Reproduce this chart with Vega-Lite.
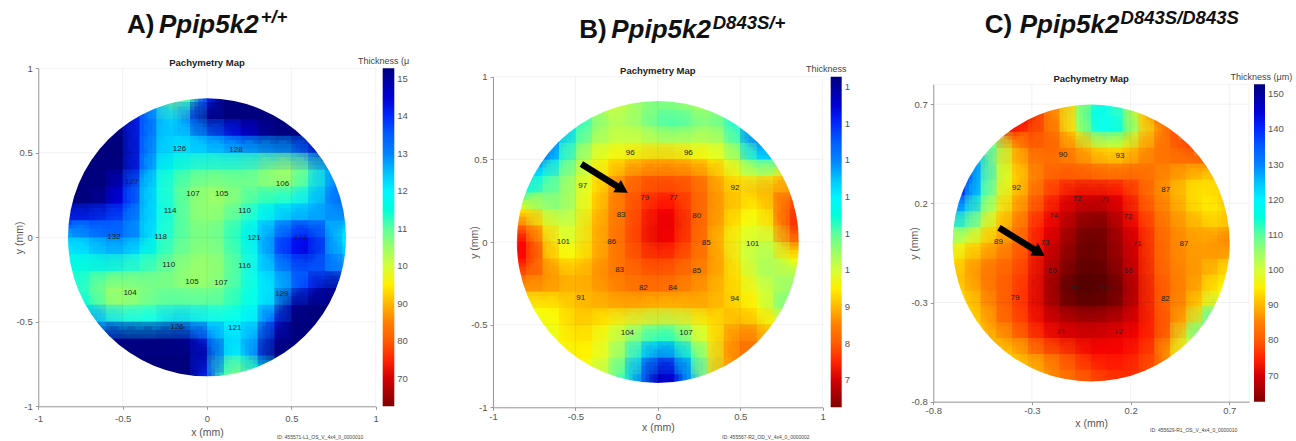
{"$schema":"https://vega.github.io/schema/vega-lite/v6.json","padding":0,"background":"white","bounds":"flush","spacing":0,"config":{"view":{"stroke":null},"font":"Liberation Sans"},"resolve":{"scale":{"color":"independent"},"legend":{"color":"independent"}},
"datasets":{
"one":[{"n":1}],
"gridAB":[{"g":-1},{"g":-0.5},{"g":0},{"g":0.5},{"g":1}],
"gridC":[{"g":-0.8},{"g":-0.3},{"g":0.2},{"g":0.7},{"g":0.8}],
"mapA":[
{"x":-0.3,"y":0.8,"v":125},{"x":-0.2,"y":0.8,"v":105},{"x":-0.1,"y":0.8,"v":112},{"x":0,"y":0.8,"v":140},{"x":0.1,"y":0.8,"v":153},{"x":0.2,"y":0.8,"v":153},{"x":0.3,"y":0.8,"v":153},
{"x":-0.5,"y":0.7,"v":150},{"x":-0.4,"y":0.7,"v":140},{"x":-0.3,"y":0.7,"v":128},{"x":-0.2,"y":0.7,"v":122},{"x":-0.1,"y":0.7,"v":135},{"x":0,"y":0.7,"v":153},{"x":0.1,"y":0.7,"v":153},{"x":0.2,"y":0.7,"v":153},{"x":0.3,"y":0.7,"v":153},{"x":0.4,"y":0.7,"v":153},{"x":0.5,"y":0.7,"v":153},
{"x":-0.6,"y":0.6,"v":153},{"x":-0.5,"y":0.6,"v":153},{"x":-0.4,"y":0.6,"v":140},{"x":-0.3,"y":0.6,"v":127},{"x":-0.2,"y":0.6,"v":123},{"x":-0.1,"y":0.6,"v":125},{"x":0,"y":0.6,"v":132},{"x":0.1,"y":0.6,"v":138},{"x":0.2,"y":0.6,"v":143},{"x":0.3,"y":0.6,"v":148},{"x":0.4,"y":0.6,"v":153},{"x":0.5,"y":0.6,"v":153},{"x":0.6,"y":0.6,"v":153},
{"x":-0.7,"y":0.5,"v":153},{"x":-0.6,"y":0.5,"v":153},{"x":-0.5,"y":0.5,"v":153},{"x":-0.4,"y":0.5,"v":140},{"x":-0.3,"y":0.5,"v":125},{"x":-0.2,"y":0.5,"v":122},{"x":-0.1,"y":0.5,"v":122},{"x":0,"y":0.5,"v":122},{"x":0.1,"y":0.5,"v":123},{"x":0.2,"y":0.5,"v":124},{"x":0.3,"y":0.5,"v":125},{"x":0.4,"y":0.5,"v":127},{"x":0.5,"y":0.5,"v":128},{"x":0.6,"y":0.5,"v":137},{"x":0.7,"y":0.5,"v":150},
{"x":-0.7,"y":0.4,"v":153},{"x":-0.6,"y":0.4,"v":153},{"x":-0.5,"y":0.4,"v":153},{"x":-0.4,"y":0.4,"v":140},{"x":-0.3,"y":0.4,"v":122},{"x":-0.2,"y":0.4,"v":115},{"x":-0.1,"y":0.4,"v":113},{"x":0,"y":0.4,"v":112},{"x":0.1,"y":0.4,"v":112},{"x":0.2,"y":0.4,"v":112},{"x":0.3,"y":0.4,"v":110},{"x":0.4,"y":0.4,"v":105},{"x":0.5,"y":0.4,"v":104},{"x":0.6,"y":0.4,"v":110},{"x":0.7,"y":0.4,"v":125},
{"x":-0.8,"y":0.3,"v":153},{"x":-0.7,"y":0.3,"v":153},{"x":-0.6,"y":0.3,"v":153},{"x":-0.5,"y":0.3,"v":145},{"x":-0.4,"y":0.3,"v":130},{"x":-0.3,"y":0.3,"v":118},{"x":-0.2,"y":0.3,"v":112},{"x":-0.1,"y":0.3,"v":108},{"x":0,"y":0.3,"v":106},{"x":0.1,"y":0.3,"v":106},{"x":0.2,"y":0.3,"v":108},{"x":0.3,"y":0.3,"v":108},{"x":0.4,"y":0.3,"v":106},{"x":0.5,"y":0.3,"v":107},{"x":0.6,"y":0.3,"v":113},{"x":0.7,"y":0.3,"v":125},{"x":0.8,"y":0.3,"v":135},
{"x":-0.8,"y":0.2,"v":153},{"x":-0.7,"y":0.2,"v":153},{"x":-0.6,"y":0.2,"v":150},{"x":-0.5,"y":0.2,"v":142},{"x":-0.4,"y":0.2,"v":130},{"x":-0.3,"y":0.2,"v":120},{"x":-0.2,"y":0.2,"v":113},{"x":-0.1,"y":0.2,"v":108},{"x":0,"y":0.2,"v":105},{"x":0.1,"y":0.2,"v":105},{"x":0.2,"y":0.2,"v":109},{"x":0.3,"y":0.2,"v":113},{"x":0.4,"y":0.2,"v":115},{"x":0.5,"y":0.2,"v":118},{"x":0.6,"y":0.2,"v":122},{"x":0.7,"y":0.2,"v":128},{"x":0.8,"y":0.2,"v":135},
{"x":-0.8,"y":0.1,"v":140},{"x":-0.7,"y":0.1,"v":140},{"x":-0.6,"y":0.1,"v":138},{"x":-0.5,"y":0.1,"v":135},{"x":-0.4,"y":0.1,"v":128},{"x":-0.3,"y":0.1,"v":120},{"x":-0.2,"y":0.1,"v":113},{"x":-0.1,"y":0.1,"v":108},{"x":0,"y":0.1,"v":106},{"x":0.1,"y":0.1,"v":108},{"x":0.2,"y":0.1,"v":112},{"x":0.3,"y":0.1,"v":118},{"x":0.4,"y":0.1,"v":123},{"x":0.5,"y":0.1,"v":127},{"x":0.6,"y":0.1,"v":128},{"x":0.7,"y":0.1,"v":128},{"x":0.8,"y":0.1,"v":128},
{"x":-0.8,"y":0,"v":125},{"x":-0.7,"y":0,"v":128},{"x":-0.6,"y":0,"v":132},{"x":-0.5,"y":0,"v":133},{"x":-0.4,"y":0,"v":128},{"x":-0.3,"y":0,"v":118},{"x":-0.2,"y":0,"v":112},{"x":-0.1,"y":0,"v":109},{"x":0,"y":0,"v":108},{"x":0.1,"y":0,"v":110},{"x":0.2,"y":0,"v":115},{"x":0.3,"y":0,"v":122},{"x":0.4,"y":0,"v":132},{"x":0.5,"y":0,"v":140},{"x":0.6,"y":0,"v":143},{"x":0.7,"y":0,"v":135},{"x":0.8,"y":0,"v":120},
{"x":-0.8,"y":-0.1,"v":120},{"x":-0.7,"y":-0.1,"v":121},{"x":-0.6,"y":-0.1,"v":124},{"x":-0.5,"y":-0.1,"v":124},{"x":-0.4,"y":-0.1,"v":120},{"x":-0.3,"y":-0.1,"v":114},{"x":-0.2,"y":-0.1,"v":110},{"x":-0.1,"y":-0.1,"v":108},{"x":0,"y":-0.1,"v":106},{"x":0.1,"y":-0.1,"v":108},{"x":0.2,"y":-0.1,"v":113},{"x":0.3,"y":-0.1,"v":120},{"x":0.4,"y":-0.1,"v":132},{"x":0.5,"y":-0.1,"v":141},{"x":0.6,"y":-0.1,"v":145},{"x":0.7,"y":-0.1,"v":135},{"x":0.8,"y":-0.1,"v":125},
{"x":-0.8,"y":-0.2,"v":115},{"x":-0.7,"y":-0.2,"v":114},{"x":-0.6,"y":-0.2,"v":114},{"x":-0.5,"y":-0.2,"v":113},{"x":-0.4,"y":-0.2,"v":112},{"x":-0.3,"y":-0.2,"v":110},{"x":-0.2,"y":-0.2,"v":108},{"x":-0.1,"y":-0.2,"v":105},{"x":0,"y":-0.2,"v":105},{"x":0.1,"y":-0.2,"v":107},{"x":0.2,"y":-0.2,"v":112},{"x":0.3,"y":-0.2,"v":120},{"x":0.4,"y":-0.2,"v":126},{"x":0.5,"y":-0.2,"v":132},{"x":0.6,"y":-0.2,"v":135},{"x":0.7,"y":-0.2,"v":135},{"x":0.8,"y":-0.2,"v":130},
{"x":-0.8,"y":-0.3,"v":118},{"x":-0.7,"y":-0.3,"v":111},{"x":-0.6,"y":-0.3,"v":105},{"x":-0.5,"y":-0.3,"v":104},{"x":-0.4,"y":-0.3,"v":106},{"x":-0.3,"y":-0.3,"v":108},{"x":-0.2,"y":-0.3,"v":108},{"x":-0.1,"y":-0.3,"v":106},{"x":0,"y":-0.3,"v":106},{"x":0.1,"y":-0.3,"v":108},{"x":0.2,"y":-0.3,"v":113},{"x":0.3,"y":-0.3,"v":118},{"x":0.4,"y":-0.3,"v":123},{"x":0.5,"y":-0.3,"v":130},{"x":0.6,"y":-0.3,"v":140},{"x":0.7,"y":-0.3,"v":150},{"x":0.8,"y":-0.3,"v":150},
{"x":-0.7,"y":-0.4,"v":115},{"x":-0.6,"y":-0.4,"v":108},{"x":-0.5,"y":-0.4,"v":106},{"x":-0.4,"y":-0.4,"v":108},{"x":-0.3,"y":-0.4,"v":110},{"x":-0.2,"y":-0.4,"v":111},{"x":-0.1,"y":-0.4,"v":111},{"x":0,"y":-0.4,"v":111},{"x":0.1,"y":-0.4,"v":111},{"x":0.2,"y":-0.4,"v":114},{"x":0.3,"y":-0.4,"v":118},{"x":0.4,"y":-0.4,"v":125},{"x":0.5,"y":-0.4,"v":150},{"x":0.6,"y":-0.4,"v":153},{"x":0.7,"y":-0.4,"v":153},
{"x":-0.7,"y":-0.5,"v":130},{"x":-0.6,"y":-0.5,"v":124},{"x":-0.5,"y":-0.5,"v":120},{"x":-0.4,"y":-0.5,"v":118},{"x":-0.3,"y":-0.5,"v":119},{"x":-0.2,"y":-0.5,"v":124},{"x":-0.1,"y":-0.5,"v":123},{"x":0,"y":-0.5,"v":120},{"x":0.1,"y":-0.5,"v":118},{"x":0.2,"y":-0.5,"v":119},{"x":0.3,"y":-0.5,"v":122},{"x":0.4,"y":-0.5,"v":140},{"x":0.5,"y":-0.5,"v":153},{"x":0.6,"y":-0.5,"v":153},{"x":0.7,"y":-0.5,"v":153},
{"x":-0.6,"y":-0.6,"v":150},{"x":-0.5,"y":-0.6,"v":152},{"x":-0.4,"y":-0.6,"v":152},{"x":-0.3,"y":-0.6,"v":152},{"x":-0.2,"y":-0.6,"v":152},{"x":-0.1,"y":-0.6,"v":150},{"x":0,"y":-0.6,"v":138},{"x":0.1,"y":-0.6,"v":124},{"x":0.2,"y":-0.6,"v":122},{"x":0.3,"y":-0.6,"v":130},{"x":0.4,"y":-0.6,"v":150},{"x":0.5,"y":-0.6,"v":153},{"x":0.6,"y":-0.6,"v":153},
{"x":-0.5,"y":-0.7,"v":153},{"x":-0.4,"y":-0.7,"v":153},{"x":-0.3,"y":-0.7,"v":153},{"x":-0.2,"y":-0.7,"v":153},{"x":-0.1,"y":-0.7,"v":153},{"x":0,"y":-0.7,"v":148},{"x":0.1,"y":-0.7,"v":125},{"x":0.2,"y":-0.7,"v":118},{"x":0.3,"y":-0.7,"v":135},{"x":0.4,"y":-0.7,"v":153},{"x":0.5,"y":-0.7,"v":153},
{"x":-0.3,"y":-0.8,"v":153},{"x":-0.2,"y":-0.8,"v":153},{"x":-0.1,"y":-0.8,"v":153},{"x":0,"y":-0.8,"v":140},{"x":0.1,"y":-0.8,"v":112},{"x":0.2,"y":-0.8,"v":105},{"x":0.3,"y":-0.8,"v":115}],
"mapB":[
{"x":-0.4,"y":0.8,"v":106},{"x":-0.3,"y":0.8,"v":100},{"x":-0.2,"y":0.8,"v":102},{"x":-0.1,"y":0.8,"v":106},{"x":0,"y":0.8,"v":108},{"x":0.1,"y":0.8,"v":108},{"x":0.2,"y":0.8,"v":106},{"x":0.3,"y":0.8,"v":103},{"x":0.4,"y":0.8,"v":108},
{"x":-0.6,"y":0.7,"v":130},{"x":-0.5,"y":0.7,"v":118},{"x":-0.4,"y":0.7,"v":110},{"x":-0.3,"y":0.7,"v":104},{"x":-0.2,"y":0.7,"v":103},{"x":-0.1,"y":0.7,"v":106},{"x":0,"y":0.7,"v":110},{"x":0.1,"y":0.7,"v":112},{"x":0.2,"y":0.7,"v":110},{"x":0.3,"y":0.7,"v":107},{"x":0.4,"y":0.7,"v":110},{"x":0.5,"y":0.7,"v":120},{"x":0.6,"y":0.7,"v":135},
{"x":-0.7,"y":0.6,"v":142},{"x":-0.6,"y":0.6,"v":125},{"x":-0.5,"y":0.6,"v":112},{"x":-0.4,"y":0.6,"v":104},{"x":-0.3,"y":0.6,"v":101},{"x":-0.2,"y":0.6,"v":100},{"x":-0.1,"y":0.6,"v":100},{"x":0,"y":0.6,"v":101},{"x":0.1,"y":0.6,"v":101},{"x":0.2,"y":0.6,"v":101},{"x":0.3,"y":0.6,"v":101},{"x":0.4,"y":0.6,"v":103},{"x":0.5,"y":0.6,"v":112},{"x":0.6,"y":0.6,"v":132},{"x":0.7,"y":0.6,"v":140},
{"x":-0.7,"y":0.5,"v":135},{"x":-0.6,"y":0.5,"v":120},{"x":-0.5,"y":0.5,"v":108},{"x":-0.4,"y":0.5,"v":100},{"x":-0.3,"y":0.5,"v":96},{"x":-0.2,"y":0.5,"v":95},{"x":-0.1,"y":0.5,"v":93},{"x":0,"y":0.5,"v":92},{"x":0.1,"y":0.5,"v":92},{"x":0.2,"y":0.5,"v":94},{"x":0.3,"y":0.5,"v":96},{"x":0.4,"y":0.5,"v":98},{"x":0.5,"y":0.5,"v":105},{"x":0.6,"y":0.5,"v":118},{"x":0.7,"y":0.5,"v":120},
{"x":-0.8,"y":0.4,"v":125},{"x":-0.7,"y":0.4,"v":118},{"x":-0.6,"y":0.4,"v":110},{"x":-0.5,"y":0.4,"v":103},{"x":-0.4,"y":0.4,"v":98},{"x":-0.3,"y":0.4,"v":92},{"x":-0.2,"y":0.4,"v":86},{"x":-0.1,"y":0.4,"v":82},{"x":0,"y":0.4,"v":81},{"x":0.1,"y":0.4,"v":81},{"x":0.2,"y":0.4,"v":82},{"x":0.3,"y":0.4,"v":86},{"x":0.4,"y":0.4,"v":92},{"x":0.5,"y":0.4,"v":97},{"x":0.6,"y":0.4,"v":100},{"x":0.7,"y":0.4,"v":98},{"x":0.8,"y":0.4,"v":92},
{"x":-0.8,"y":0.3,"v":115},{"x":-0.7,"y":0.3,"v":110},{"x":-0.6,"y":0.3,"v":108},{"x":-0.5,"y":0.3,"v":102},{"x":-0.4,"y":0.3,"v":96},{"x":-0.3,"y":0.3,"v":88},{"x":-0.2,"y":0.3,"v":82},{"x":-0.1,"y":0.3,"v":79},{"x":0,"y":0.3,"v":77},{"x":0.1,"y":0.3,"v":77},{"x":0.2,"y":0.3,"v":79},{"x":0.3,"y":0.3,"v":84},{"x":0.4,"y":0.3,"v":89},{"x":0.5,"y":0.3,"v":92},{"x":0.6,"y":0.3,"v":90},{"x":0.7,"y":0.3,"v":88},{"x":0.8,"y":0.3,"v":85},
{"x":-0.8,"y":0.2,"v":96},{"x":-0.7,"y":0.2,"v":103},{"x":-0.6,"y":0.2,"v":107},{"x":-0.5,"y":0.2,"v":102},{"x":-0.4,"y":0.2,"v":95},{"x":-0.3,"y":0.2,"v":87},{"x":-0.2,"y":0.2,"v":82},{"x":-0.1,"y":0.2,"v":77},{"x":0,"y":0.2,"v":74},{"x":0.1,"y":0.2,"v":74},{"x":0.2,"y":0.2,"v":79},{"x":0.3,"y":0.2,"v":84},{"x":0.4,"y":0.2,"v":89},{"x":0.5,"y":0.2,"v":93},{"x":0.6,"y":0.2,"v":96},{"x":0.7,"y":0.2,"v":90},{"x":0.8,"y":0.2,"v":77},
{"x":-0.8,"y":0.1,"v":84},{"x":-0.7,"y":0.1,"v":94},{"x":-0.6,"y":0.1,"v":100},{"x":-0.5,"y":0.1,"v":100},{"x":-0.4,"y":0.1,"v":92},{"x":-0.3,"y":0.1,"v":86},{"x":-0.2,"y":0.1,"v":82},{"x":-0.1,"y":0.1,"v":76},{"x":0,"y":0.1,"v":72},{"x":0.1,"y":0.1,"v":72},{"x":0.2,"y":0.1,"v":78},{"x":0.3,"y":0.1,"v":84},{"x":0.4,"y":0.1,"v":90},{"x":0.5,"y":0.1,"v":96},{"x":0.6,"y":0.1,"v":98},{"x":0.7,"y":0.1,"v":93},{"x":0.8,"y":0.1,"v":76},
{"x":-0.8,"y":0,"v":74},{"x":-0.7,"y":0,"v":88},{"x":-0.6,"y":0,"v":98},{"x":-0.5,"y":0,"v":99},{"x":-0.4,"y":0,"v":92},{"x":-0.3,"y":0,"v":86},{"x":-0.2,"y":0,"v":81},{"x":-0.1,"y":0,"v":76},{"x":0,"y":0,"v":72},{"x":0.1,"y":0,"v":74},{"x":0.2,"y":0,"v":79},{"x":0.3,"y":0,"v":85},{"x":0.4,"y":0,"v":92},{"x":0.5,"y":0,"v":98},{"x":0.6,"y":0,"v":101},{"x":0.7,"y":0,"v":100},{"x":0.8,"y":0,"v":84},
{"x":-0.8,"y":-0.1,"v":74},{"x":-0.7,"y":-0.1,"v":86},{"x":-0.6,"y":-0.1,"v":95},{"x":-0.5,"y":-0.1,"v":96},{"x":-0.4,"y":-0.1,"v":91},{"x":-0.3,"y":-0.1,"v":86},{"x":-0.2,"y":-0.1,"v":82},{"x":-0.1,"y":-0.1,"v":78},{"x":0,"y":-0.1,"v":76},{"x":0.1,"y":-0.1,"v":77},{"x":0.2,"y":-0.1,"v":81},{"x":0.3,"y":-0.1,"v":85},{"x":0.4,"y":-0.1,"v":90},{"x":0.5,"y":-0.1,"v":98},{"x":0.6,"y":-0.1,"v":103},{"x":0.7,"y":-0.1,"v":103},{"x":0.8,"y":-0.1,"v":96},
{"x":-0.8,"y":-0.2,"v":80},{"x":-0.7,"y":-0.2,"v":84},{"x":-0.6,"y":-0.2,"v":88},{"x":-0.5,"y":-0.2,"v":90},{"x":-0.4,"y":-0.2,"v":88},{"x":-0.3,"y":-0.2,"v":85},{"x":-0.2,"y":-0.2,"v":83},{"x":-0.1,"y":-0.2,"v":81},{"x":0,"y":-0.2,"v":80},{"x":0.1,"y":-0.2,"v":81},{"x":0.2,"y":-0.2,"v":84},{"x":0.3,"y":-0.2,"v":86},{"x":0.4,"y":-0.2,"v":90},{"x":0.5,"y":-0.2,"v":95},{"x":0.6,"y":-0.2,"v":102},{"x":0.7,"y":-0.2,"v":104},{"x":0.8,"y":-0.2,"v":104},
{"x":-0.8,"y":-0.3,"v":88},{"x":-0.7,"y":-0.3,"v":88},{"x":-0.6,"y":-0.3,"v":89},{"x":-0.5,"y":-0.3,"v":90},{"x":-0.4,"y":-0.3,"v":89},{"x":-0.3,"y":-0.3,"v":87},{"x":-0.2,"y":-0.3,"v":85},{"x":-0.1,"y":-0.3,"v":83},{"x":0,"y":-0.3,"v":83},{"x":0.1,"y":-0.3,"v":84},{"x":0.2,"y":-0.3,"v":86},{"x":0.3,"y":-0.3,"v":88},{"x":0.4,"y":-0.3,"v":91},{"x":0.5,"y":-0.3,"v":94},{"x":0.6,"y":-0.3,"v":98},{"x":0.7,"y":-0.3,"v":102},{"x":0.8,"y":-0.3,"v":106},
{"x":-0.8,"y":-0.4,"v":98},{"x":-0.7,"y":-0.4,"v":96},{"x":-0.6,"y":-0.4,"v":95},{"x":-0.5,"y":-0.4,"v":91},{"x":-0.4,"y":-0.4,"v":90},{"x":-0.3,"y":-0.4,"v":90},{"x":-0.2,"y":-0.4,"v":89},{"x":-0.1,"y":-0.4,"v":90},{"x":0,"y":-0.4,"v":91},{"x":0.1,"y":-0.4,"v":91},{"x":0.2,"y":-0.4,"v":90},{"x":0.3,"y":-0.4,"v":89},{"x":0.4,"y":-0.4,"v":91},{"x":0.5,"y":-0.4,"v":93},{"x":0.6,"y":-0.4,"v":96},{"x":0.7,"y":-0.4,"v":103},{"x":0.8,"y":-0.4,"v":110},
{"x":-0.7,"y":-0.5,"v":98},{"x":-0.6,"y":-0.5,"v":96},{"x":-0.5,"y":-0.5,"v":92},{"x":-0.4,"y":-0.5,"v":93},{"x":-0.3,"y":-0.5,"v":96},{"x":-0.2,"y":-0.5,"v":99},{"x":-0.1,"y":-0.5,"v":101},{"x":0,"y":-0.5,"v":103},{"x":0.1,"y":-0.5,"v":103},{"x":0.2,"y":-0.5,"v":100},{"x":0.3,"y":-0.5,"v":96},{"x":0.4,"y":-0.5,"v":92},{"x":0.5,"y":-0.5,"v":89},{"x":0.6,"y":-0.5,"v":91},{"x":0.7,"y":-0.5,"v":96},
{"x":-0.7,"y":-0.6,"v":100},{"x":-0.6,"y":-0.6,"v":97},{"x":-0.5,"y":-0.6,"v":94},{"x":-0.4,"y":-0.6,"v":95},{"x":-0.3,"y":-0.6,"v":99},{"x":-0.2,"y":-0.6,"v":105},{"x":-0.1,"y":-0.6,"v":111},{"x":0,"y":-0.6,"v":116},{"x":0.1,"y":-0.6,"v":114},{"x":0.2,"y":-0.6,"v":106},{"x":0.3,"y":-0.6,"v":98},{"x":0.4,"y":-0.6,"v":90},{"x":0.5,"y":-0.6,"v":83},{"x":0.6,"y":-0.6,"v":84},{"x":0.7,"y":-0.6,"v":90},
{"x":-0.6,"y":-0.7,"v":98},{"x":-0.5,"y":-0.7,"v":95},{"x":-0.4,"y":-0.7,"v":96},{"x":-0.3,"y":-0.7,"v":100},{"x":-0.2,"y":-0.7,"v":108},{"x":-0.1,"y":-0.7,"v":122},{"x":0,"y":-0.7,"v":133},{"x":0.1,"y":-0.7,"v":130},{"x":0.2,"y":-0.7,"v":116},{"x":0.3,"y":-0.7,"v":101},{"x":0.4,"y":-0.7,"v":90},{"x":0.5,"y":-0.7,"v":83},{"x":0.6,"y":-0.7,"v":84},
{"x":-0.4,"y":-0.8,"v":99},{"x":-0.3,"y":-0.8,"v":103},{"x":-0.2,"y":-0.8,"v":113},{"x":-0.1,"y":-0.8,"v":130},{"x":0,"y":-0.8,"v":147},{"x":0.1,"y":-0.8,"v":145},{"x":0.2,"y":-0.8,"v":126},{"x":0.3,"y":-0.8,"v":103},{"x":0.4,"y":-0.8,"v":88}],
"mapC":[
{"x":-0.16,"y":0.72,"v":85},{"x":-0.08,"y":0.72,"v":95},{"x":0,"y":0.72,"v":110},{"x":0.08,"y":0.72,"v":117},{"x":0.16,"y":0.72,"v":110},
{"x":-0.32,"y":0.64,"v":72},{"x":-0.24,"y":0.64,"v":80},{"x":-0.16,"y":0.64,"v":88},{"x":-0.08,"y":0.64,"v":100},{"x":0,"y":0.64,"v":115},{"x":0.08,"y":0.64,"v":119},{"x":0.16,"y":0.64,"v":112},{"x":0.24,"y":0.64,"v":95},{"x":0.32,"y":0.64,"v":82},
{"x":-0.4,"y":0.56,"v":74},{"x":-0.32,"y":0.56,"v":77},{"x":-0.24,"y":0.56,"v":80},{"x":-0.16,"y":0.56,"v":86},{"x":-0.08,"y":0.56,"v":97},{"x":0,"y":0.56,"v":112},{"x":0.08,"y":0.56,"v":119},{"x":0.16,"y":0.56,"v":114},{"x":0.24,"y":0.56,"v":100},{"x":0.32,"y":0.56,"v":90},{"x":0.4,"y":0.56,"v":80},
{"x":-0.48,"y":0.48,"v":108},{"x":-0.4,"y":0.48,"v":92},{"x":-0.32,"y":0.48,"v":82},{"x":-0.24,"y":0.48,"v":80},{"x":-0.16,"y":0.48,"v":82},{"x":-0.08,"y":0.48,"v":87},{"x":0,"y":0.48,"v":93},{"x":0.08,"y":0.48,"v":97},{"x":0.16,"y":0.48,"v":96},{"x":0.24,"y":0.48,"v":90},{"x":0.32,"y":0.48,"v":85},{"x":0.4,"y":0.48,"v":82},{"x":0.48,"y":0.48,"v":78},
{"x":-0.56,"y":0.4,"v":125},{"x":-0.48,"y":0.4,"v":105},{"x":-0.4,"y":0.4,"v":93},{"x":-0.32,"y":0.4,"v":86},{"x":-0.24,"y":0.4,"v":83},{"x":-0.16,"y":0.4,"v":83},{"x":-0.08,"y":0.4,"v":84},{"x":0,"y":0.4,"v":86},{"x":0.08,"y":0.4,"v":88},{"x":0.16,"y":0.4,"v":88},{"x":0.24,"y":0.4,"v":86},{"x":0.32,"y":0.4,"v":84},{"x":0.4,"y":0.4,"v":84},{"x":0.48,"y":0.4,"v":84},{"x":0.56,"y":0.4,"v":82},
{"x":-0.64,"y":0.32,"v":142},{"x":-0.56,"y":0.32,"v":122},{"x":-0.48,"y":0.32,"v":105},{"x":-0.4,"y":0.32,"v":96},{"x":-0.32,"y":0.32,"v":88},{"x":-0.24,"y":0.32,"v":82},{"x":-0.16,"y":0.32,"v":79},{"x":-0.08,"y":0.32,"v":79},{"x":0,"y":0.32,"v":79},{"x":0.08,"y":0.32,"v":80},{"x":0.16,"y":0.32,"v":80},{"x":0.24,"y":0.32,"v":80},{"x":0.32,"y":0.32,"v":84},{"x":0.4,"y":0.32,"v":87},{"x":0.48,"y":0.32,"v":90},{"x":0.56,"y":0.32,"v":93},{"x":0.64,"y":0.32,"v":92},
{"x":-0.64,"y":0.24,"v":138},{"x":-0.56,"y":0.24,"v":118},{"x":-0.48,"y":0.24,"v":102},{"x":-0.4,"y":0.24,"v":93},{"x":-0.32,"y":0.24,"v":86},{"x":-0.24,"y":0.24,"v":79},{"x":-0.16,"y":0.24,"v":75},{"x":-0.08,"y":0.24,"v":72},{"x":0,"y":0.24,"v":72},{"x":0.08,"y":0.24,"v":72},{"x":0.16,"y":0.24,"v":74},{"x":0.24,"y":0.24,"v":78},{"x":0.32,"y":0.24,"v":84},{"x":0.4,"y":0.24,"v":88},{"x":0.48,"y":0.24,"v":92},{"x":0.56,"y":0.24,"v":95},{"x":0.64,"y":0.24,"v":93},
{"x":-0.72,"y":0.16,"v":130},{"x":-0.64,"y":0.16,"v":125},{"x":-0.56,"y":0.16,"v":110},{"x":-0.48,"y":0.16,"v":98},{"x":-0.4,"y":0.16,"v":90},{"x":-0.32,"y":0.16,"v":83},{"x":-0.24,"y":0.16,"v":76},{"x":-0.16,"y":0.16,"v":72},{"x":-0.08,"y":0.16,"v":68},{"x":0,"y":0.16,"v":66},{"x":0.08,"y":0.16,"v":67},{"x":0.16,"y":0.16,"v":71},{"x":0.24,"y":0.16,"v":76},{"x":0.32,"y":0.16,"v":82},{"x":0.4,"y":0.16,"v":86},{"x":0.48,"y":0.16,"v":90},{"x":0.56,"y":0.16,"v":94},{"x":0.64,"y":0.16,"v":95},{"x":0.72,"y":0.16,"v":90},
{"x":-0.72,"y":0.08,"v":110},{"x":-0.64,"y":0.08,"v":112},{"x":-0.56,"y":0.08,"v":102},{"x":-0.48,"y":0.08,"v":93},{"x":-0.4,"y":0.08,"v":87},{"x":-0.32,"y":0.08,"v":80},{"x":-0.24,"y":0.08,"v":74},{"x":-0.16,"y":0.08,"v":70},{"x":-0.08,"y":0.08,"v":65},{"x":0,"y":0.08,"v":62},{"x":0.08,"y":0.08,"v":63},{"x":0.16,"y":0.08,"v":69},{"x":0.24,"y":0.08,"v":74},{"x":0.32,"y":0.08,"v":80},{"x":0.4,"y":0.08,"v":85},{"x":0.48,"y":0.08,"v":88},{"x":0.56,"y":0.08,"v":90},{"x":0.64,"y":0.08,"v":92},{"x":0.72,"y":0.08,"v":90},
{"x":-0.72,"y":0,"v":102},{"x":-0.64,"y":0,"v":98},{"x":-0.56,"y":0,"v":94},{"x":-0.48,"y":0,"v":89},{"x":-0.4,"y":0,"v":85},{"x":-0.32,"y":0,"v":79},{"x":-0.24,"y":0,"v":73},{"x":-0.16,"y":0,"v":68},{"x":-0.08,"y":0,"v":63},{"x":0,"y":0,"v":60},{"x":0.08,"y":0,"v":62},{"x":0.16,"y":0,"v":67},{"x":0.24,"y":0,"v":72},{"x":0.32,"y":0,"v":79},{"x":0.4,"y":0,"v":84},{"x":0.48,"y":0,"v":87},{"x":0.56,"y":0,"v":88},{"x":0.64,"y":0,"v":86},{"x":0.72,"y":0,"v":83},
{"x":-0.72,"y":-0.08,"v":96},{"x":-0.64,"y":-0.08,"v":92},{"x":-0.56,"y":-0.08,"v":88},{"x":-0.48,"y":-0.08,"v":85},{"x":-0.4,"y":-0.08,"v":82},{"x":-0.32,"y":-0.08,"v":77},{"x":-0.24,"y":-0.08,"v":71},{"x":-0.16,"y":-0.08,"v":66},{"x":-0.08,"y":-0.08,"v":62},{"x":0,"y":-0.08,"v":60},{"x":0.08,"y":-0.08,"v":62},{"x":0.16,"y":-0.08,"v":66},{"x":0.24,"y":-0.08,"v":72},{"x":0.32,"y":-0.08,"v":79},{"x":0.4,"y":-0.08,"v":84},{"x":0.48,"y":-0.08,"v":87},{"x":0.56,"y":-0.08,"v":88},{"x":0.64,"y":-0.08,"v":88},{"x":0.72,"y":-0.08,"v":90},
{"x":-0.72,"y":-0.16,"v":92},{"x":-0.64,"y":-0.16,"v":90},{"x":-0.56,"y":-0.16,"v":85},{"x":-0.48,"y":-0.16,"v":82},{"x":-0.4,"y":-0.16,"v":80},{"x":-0.32,"y":-0.16,"v":76},{"x":-0.24,"y":-0.16,"v":70},{"x":-0.16,"y":-0.16,"v":65},{"x":-0.08,"y":-0.16,"v":60},{"x":0,"y":-0.16,"v":59},{"x":0.08,"y":-0.16,"v":60},{"x":0.16,"y":-0.16,"v":65},{"x":0.24,"y":-0.16,"v":71},{"x":0.32,"y":-0.16,"v":78},{"x":0.4,"y":-0.16,"v":83},{"x":0.48,"y":-0.16,"v":86},{"x":0.56,"y":-0.16,"v":88},{"x":0.64,"y":-0.16,"v":92},{"x":0.72,"y":-0.16,"v":95},
{"x":-0.64,"y":-0.24,"v":92},{"x":-0.56,"y":-0.24,"v":87},{"x":-0.48,"y":-0.24,"v":82},{"x":-0.4,"y":-0.24,"v":79},{"x":-0.32,"y":-0.24,"v":75},{"x":-0.24,"y":-0.24,"v":69},{"x":-0.16,"y":-0.24,"v":62},{"x":-0.08,"y":-0.24,"v":58},{"x":0,"y":-0.24,"v":58},{"x":0.08,"y":-0.24,"v":59},{"x":0.16,"y":-0.24,"v":62},{"x":0.24,"y":-0.24,"v":70},{"x":0.32,"y":-0.24,"v":77},{"x":0.4,"y":-0.24,"v":82},{"x":0.48,"y":-0.24,"v":86},{"x":0.56,"y":-0.24,"v":90},{"x":0.64,"y":-0.24,"v":96},
{"x":-0.64,"y":-0.32,"v":94},{"x":-0.56,"y":-0.32,"v":89},{"x":-0.48,"y":-0.32,"v":83},{"x":-0.4,"y":-0.32,"v":79},{"x":-0.32,"y":-0.32,"v":75},{"x":-0.24,"y":-0.32,"v":70},{"x":-0.16,"y":-0.32,"v":64},{"x":-0.08,"y":-0.32,"v":61},{"x":0,"y":-0.32,"v":60},{"x":0.08,"y":-0.32,"v":61},{"x":0.16,"y":-0.32,"v":64},{"x":0.24,"y":-0.32,"v":71},{"x":0.32,"y":-0.32,"v":77},{"x":0.4,"y":-0.32,"v":83},{"x":0.48,"y":-0.32,"v":87},{"x":0.56,"y":-0.32,"v":94},{"x":0.64,"y":-0.32,"v":103},
{"x":-0.56,"y":-0.4,"v":92},{"x":-0.48,"y":-0.4,"v":85},{"x":-0.4,"y":-0.4,"v":80},{"x":-0.32,"y":-0.4,"v":76},{"x":-0.24,"y":-0.4,"v":72},{"x":-0.16,"y":-0.4,"v":69},{"x":-0.08,"y":-0.4,"v":68},{"x":0,"y":-0.4,"v":67},{"x":0.08,"y":-0.4,"v":68},{"x":0.16,"y":-0.4,"v":69},{"x":0.24,"y":-0.4,"v":72},{"x":0.32,"y":-0.4,"v":76},{"x":0.4,"y":-0.4,"v":82},{"x":0.48,"y":-0.4,"v":90},{"x":0.56,"y":-0.4,"v":104},{"x":0.64,"y":-0.4,"v":118},
{"x":-0.48,"y":-0.48,"v":90},{"x":-0.4,"y":-0.48,"v":85},{"x":-0.32,"y":-0.48,"v":79},{"x":-0.24,"y":-0.48,"v":75},{"x":-0.16,"y":-0.48,"v":72},{"x":-0.08,"y":-0.48,"v":71},{"x":0,"y":-0.48,"v":70},{"x":0.08,"y":-0.48,"v":71},{"x":0.16,"y":-0.48,"v":72},{"x":0.24,"y":-0.48,"v":74},{"x":0.32,"y":-0.48,"v":76},{"x":0.4,"y":-0.48,"v":84},{"x":0.48,"y":-0.48,"v":100},{"x":0.56,"y":-0.48,"v":112},
{"x":-0.4,"y":-0.56,"v":92},{"x":-0.32,"y":-0.56,"v":87},{"x":-0.24,"y":-0.56,"v":82},{"x":-0.16,"y":-0.56,"v":79},{"x":-0.08,"y":-0.56,"v":76},{"x":0,"y":-0.56,"v":74},{"x":0.08,"y":-0.56,"v":74},{"x":0.16,"y":-0.56,"v":74},{"x":0.24,"y":-0.56,"v":75},{"x":0.32,"y":-0.56,"v":78},{"x":0.4,"y":-0.56,"v":90},{"x":0.48,"y":-0.56,"v":98},
{"x":-0.32,"y":-0.64,"v":92},{"x":-0.24,"y":-0.64,"v":88},{"x":-0.16,"y":-0.64,"v":84},{"x":-0.08,"y":-0.64,"v":80},{"x":0,"y":-0.64,"v":77},{"x":0.08,"y":-0.64,"v":75},{"x":0.16,"y":-0.64,"v":75},{"x":0.24,"y":-0.64,"v":76},{"x":0.32,"y":-0.64,"v":80},
{"x":-0.16,"y":-0.72,"v":85},{"x":-0.08,"y":-0.72,"v":82},{"x":0,"y":-0.72,"v":79},{"x":0.08,"y":-0.72,"v":77},{"x":0.16,"y":-0.72,"v":76}],
"labA":[{"x":-0.163,"y":0.52,"v":126},{"x":0.172,"y":0.516,"v":128},{"x":-0.445,"y":0.327,"v":127},{"x":-0.083,"y":0.257,"v":107},{"x":0.087,"y":0.255,"v":105},{"x":0.447,"y":0.318,"v":106},{"x":-0.219,"y":0.157,"v":114},{"x":0.223,"y":0.155,"v":110},{"x":-0.551,"y":0.002,"v":132},{"x":-0.275,"y":0,"v":118},{"x":0.279,"y":-0.006,"v":121},{"x":0.555,"y":-0.006,"v":137},{"x":-0.227,"y":-0.164,"v":110},{"x":0.223,"y":-0.168,"v":116},{"x":-0.089,"y":-0.267,"v":105},{"x":0.083,"y":-0.27,"v":107},{"x":-0.456,"y":-0.328,"v":104},{"x":0.443,"y":-0.338,"v":129},{"x":-0.178,"y":-0.533,"v":126},{"x":0.164,"y":-0.537,"v":121}],
"labB":[{"x":-0.167,"y":0.54,"v":96},{"x":0.185,"y":0.538,"v":96},{"x":-0.456,"y":0.337,"v":97},{"x":0.468,"y":0.327,"v":92},{"x":-0.08,"y":0.268,"v":79},{"x":0.094,"y":0.268,"v":77},{"x":-0.223,"y":0.165,"v":83},{"x":0.236,"y":0.159,"v":80},{"x":-0.573,"y":0.002,"v":101},{"x":-0.28,"y":-0.002,"v":86},{"x":0.294,"y":-0.006,"v":85},{"x":0.575,"y":-0.01,"v":101},{"x":-0.232,"y":-0.171,"v":83},{"x":0.236,"y":-0.177,"v":85},{"x":-0.088,"y":-0.278,"v":82},{"x":0.09,"y":-0.28,"v":84},{"x":-0.468,"y":-0.339,"v":91},{"x":0.466,"y":-0.347,"v":94},{"x":-0.185,"y":-0.548,"v":104},{"x":0.171,"y":-0.552,"v":107}],
"labC":[{"x":-0.143,"y":0.443,"v":90},{"x":0.146,"y":0.44,"v":93},{"x":-0.378,"y":0.275,"v":92},{"x":0.378,"y":0.268,"v":87},{"x":-0.072,"y":0.22,"v":72},{"x":0.072,"y":0.218,"v":71},{"x":-0.19,"y":0.136,"v":74},{"x":0.187,"y":0.133,"v":72},{"x":-0.47,"y":0.003,"v":89},{"x":-0.234,"y":0,"v":73},{"x":0.234,"y":-0.003,"v":71},{"x":0.47,"y":-0.007,"v":87},{"x":-0.197,"y":-0.139,"v":66},{"x":0.188,"y":-0.143,"v":66},{"x":-0.079,"y":-0.227,"v":58},{"x":0.068,"y":-0.228,"v":59},{"x":-0.386,"y":-0.275,"v":79},{"x":0.376,"y":-0.284,"v":82},{"x":-0.153,"y":-0.448,"v":71},{"x":0.139,"y":-0.451,"v":72}],
"arrowB":[{"x":-0.464,"y":0.472,"x2":-0.215,"y2":0.318}],
"arrowC":[{"x":-0.467,"y":0.077,"x2":-0.262,"y2":-0.049}]
},
"hconcat":[
{"width":432,"height":441,"layer":[
{"data":{"name":"mapA"},"mark":{"type":"rect","width":17.6,"height":17.6},"encoding":{
"x":{"field":"x","type":"quantitative","scale":{"domain":[-1,1],"range":[38.3,375.7],"nice":false,"zero":false},"axis":{"offset":-34.7,"zindex":1,"values":[-1,-0.5,0,0.5,1],"labelExpr":"replace(format(datum.value,'~g'),'−','-')","title":"x (mm)","grid":false,"labelFlush":false,"domainColor":"#999","tickColor":"#999","tickSize":3,"labelColor":"#555","labelFontSize":9.5,"titleColor":"#555","titleFontSize":10.5,"titleFontWeight":"normal","labelPadding":4,"titlePadding":5,"labelOverlap":false}},
"y":{"field":"y","type":"quantitative","scale":{"domain":[-1,1],"range":[406.3,68.3],"nice":false,"zero":false},"axis":{"offset":-38.3,"zindex":1,"values":[-1,-0.5,0,0.5,1],"labelExpr":"replace(format(datum.value,'~g'),'−','-')","title":"y (mm)","grid":false,"labelFlush":false,"domainColor":"#999","tickColor":"#999","tickSize":3,"labelColor":"#555","labelFontSize":9.5,"titleColor":"#555","titleFontSize":10.5,"titleFontWeight":"normal","labelPadding":3,"titlePadding":-9,"labelOverlap":false}},
"color":{"field":"v","type":"quantitative","scale":{"domain":[62.6,152.8],"range":["#800000","#ff0000","#ff8000","#ffff00","#80ff80","#00ffff","#0080ff","#0000ff","#000080"]},"legend":{"orient":"none","legendX":382.7,"legendY":68.3,"title":null,"gradientLength":338,"gradientThickness":11.6,"gradientStrokeWidth":0,"values":[70,80,90,100,110,120,130,140,150],"labelExpr":"substring(datum.label,0,2)","labelColor":"#555","labelFontSize":9.5,"labelOverlap":false,"labelOffset":3}}}},
{"data":{"name":"mapA"},"mark":{"type":"rect","width":25,"height":25,"opacity":0.35},"encoding":{"x":{"field":"x","type":"quantitative"},"y":{"field":"y","type":"quantitative"},"color":{"field":"v","type":"quantitative","legend":null}}},
{"data":{"name":"mapA"},"mark":{"type":"rect","width":34,"height":34,"opacity":0.25},"encoding":{"x":{"field":"x","type":"quantitative"},"y":{"field":"y","type":"quantitative"},"color":{"field":"v","type":"quantitative","legend":null}}},
{"data":{"name":"one"},"mark":{"type":"arc","innerRadius":139,"outerRadius":178,"theta":0,"theta2":6.2832,"fill":"white"},"encoding":{"x":{"datum":0,"type":"quantitative"},"y":{"datum":0,"type":"quantitative"}}},
{"data":{"name":"gridAB"},"mark":{"type":"rule","color":"#000","opacity":0.05},"encoding":{"x":{"field":"g","type":"quantitative"},"y":{"datum":-1,"type":"quantitative"},"y2":{"datum":1}}},
{"data":{"name":"gridAB"},"mark":{"type":"rule","color":"#000","opacity":0.05},"encoding":{"y":{"field":"g","type":"quantitative"},"x":{"datum":-1,"type":"quantitative"},"x2":{"datum":1}}},
{"data":{"name":"labA"},"mark":{"type":"text","fontSize":8,"color":"#222"},"encoding":{"x":{"field":"x","type":"quantitative"},"y":{"field":"y","type":"quantitative"},"text":{"field":"v","type":"quantitative"}}},
{"data":{"name":"one"},"mark":{"type":"text","text":"Pachymetry Map","fontSize":9.5,"fontWeight":"bold","color":"#222"},"encoding":{"x":{"datum":0,"type":"quantitative"},"y":{"datum":1.03,"type":"quantitative"}}},
{"data":{"name":"one"},"mark":{"type":"text","text":"Thickness (μ","fontSize":9,"align":"left","color":"#444"},"encoding":{"x":{"datum":0.895,"type":"quantitative"},"y":{"datum":1.043,"type":"quantitative"}}},
{"data":{"name":"one"},"mark":{"type":"text","text":"ID: 455571-L1_OS_V_4x4_0_0000010","fontSize":5,"color":"#444"},"encoding":{"x":{"datum":0.67,"type":"quantitative"},"y":{"datum":-1.18,"type":"quantitative"}}},
{"data":{"name":"one"},"mark":{"type":"text","text":"A)","fontSize":26,"fontWeight":"bold","align":"left","baseline":"alphabetic","color":"#111"},"encoding":{"x":{"datum":-0.474,"type":"quantitative"},"y":{"datum":1.207,"type":"quantitative"}}},
{"data":{"name":"one"},"mark":{"type":"text","text":"Ppip5k2","fontSize":26,"fontWeight":"bold","fontStyle":"italic","align":"left","baseline":"alphabetic","color":"#111"},"encoding":{"x":{"datum":-0.285,"type":"quantitative"},"y":{"datum":1.207,"type":"quantitative"}}},
{"data":{"name":"one"},"mark":{"type":"text","text":"+/+","fontSize":18.5,"fontWeight":"bold","fontStyle":"italic","align":"left","baseline":"alphabetic","color":"#111"},"encoding":{"x":{"datum":0.318,"type":"quantitative"},"y":{"datum":1.27,"type":"quantitative"}}}
]},
{"width":432,"height":441,"layer":[
{"data":{"name":"mapB"},"mark":{"type":"rect","width":17.2,"height":17.2},"encoding":{
"x":{"field":"x","type":"quantitative","scale":{"domain":[-1,1],"range":[61,390.7],"nice":false,"zero":false},"axis":{"offset":-33.7,"zindex":1,"values":[-1,-0.5,0,0.5,1],"labelExpr":"replace(format(datum.value,'~g'),'−','-')","title":"x (mm)","grid":false,"labelFlush":false,"domainColor":"#999","tickColor":"#999","tickSize":3,"labelColor":"#555","labelFontSize":9.5,"titleColor":"#555","titleFontSize":10.5,"titleFontWeight":"normal","labelPadding":1,"titlePadding":2,"labelOverlap":false}},
"y":{"field":"y","type":"quantitative","scale":{"domain":[-1,1],"range":[407.3,76.7],"nice":false,"zero":false},"axis":{"offset":-61,"zindex":1,"values":[-1,-0.5,0,0.5,1],"labelExpr":"replace(format(datum.value,'~g'),'−','-')","title":"y (mm)","grid":false,"labelFlush":false,"domainColor":"#999","tickColor":"#999","tickSize":3,"labelColor":"#555","labelFontSize":9.5,"titleColor":"#555","titleFontSize":10.5,"titleFontWeight":"normal","labelPadding":3,"titlePadding":-9,"labelOverlap":false}},
"color":{"field":"v","type":"quantitative","scale":{"domain":[62.6,152.8],"range":["#800000","#ff0000","#ff8000","#ffff00","#80ff80","#00ffff","#0080ff","#0000ff","#000080"]},"legend":{"orient":"none","legendX":398.7,"legendY":76.7,"title":null,"gradientLength":330.6,"gradientThickness":11,"gradientStrokeWidth":0,"values":[70,80,90,100,110,120,130,140,150],"labelExpr":"substring(datum.label,0,1)","labelColor":"#555","labelFontSize":9.5,"labelOverlap":false,"labelOffset":3}}}},
{"data":{"name":"mapB"},"mark":{"type":"rect","width":24.5,"height":24.5,"opacity":0.35},"encoding":{"x":{"field":"x","type":"quantitative"},"y":{"field":"y","type":"quantitative"},"color":{"field":"v","type":"quantitative","legend":null}}},
{"data":{"name":"mapB"},"mark":{"type":"rect","width":33,"height":33,"opacity":0.25},"encoding":{"x":{"field":"x","type":"quantitative"},"y":{"field":"y","type":"quantitative"},"color":{"field":"v","type":"quantitative","legend":null}}},
{"data":{"name":"one"},"mark":{"type":"arc","innerRadius":141,"outerRadius":182,"theta":0,"theta2":6.2832,"fill":"white"},"encoding":{"x":{"datum":0,"type":"quantitative"},"y":{"datum":0,"type":"quantitative"}}},
{"data":{"name":"gridAB"},"mark":{"type":"rule","color":"#000","opacity":0.05},"encoding":{"x":{"field":"g","type":"quantitative"},"y":{"datum":-1,"type":"quantitative"},"y2":{"datum":1}}},
{"data":{"name":"gridAB"},"mark":{"type":"rule","color":"#000","opacity":0.05},"encoding":{"y":{"field":"g","type":"quantitative"},"x":{"datum":-1,"type":"quantitative"},"x2":{"datum":1}}},
{"data":{"name":"labB"},"mark":{"type":"text","fontSize":8,"color":"#222"},"encoding":{"x":{"field":"x","type":"quantitative"},"y":{"field":"y","type":"quantitative"},"text":{"field":"v","type":"quantitative"}}},
{"data":{"name":"arrowB"},"mark":{"type":"rule","color":"black","strokeWidth":6.5},"encoding":{"x":{"field":"x","type":"quantitative"},"y":{"field":"y","type":"quantitative"},"x2":{"field":"x2"},"y2":{"field":"y2"}}},
{"data":{"name":"arrowB"},"mark":{"type":"point","shape":"triangle-up","filled":true,"color":"black","opacity":1,"size":210,"angle":121.6},"encoding":{"x":{"field":"x2","type":"quantitative"},"y":{"field":"y2","type":"quantitative"}}},
{"data":{"name":"one"},"mark":{"type":"text","text":"Pachymetry Map","fontSize":9.5,"fontWeight":"bold","color":"#222"},"encoding":{"x":{"datum":0,"type":"quantitative"},"y":{"datum":1.035,"type":"quantitative"}}},
{"data":{"name":"one"},"mark":{"type":"text","text":"Thickness","fontSize":9,"align":"left","color":"#444"},"encoding":{"x":{"datum":0.898,"type":"quantitative"},"y":{"datum":1.047,"type":"quantitative"}}},
{"data":{"name":"one"},"mark":{"type":"text","text":"ID: 455567-R2_OD_V_4x4_0_0000002","fontSize":5,"color":"#444"},"encoding":{"x":{"datum":0.655,"type":"quantitative"},"y":{"datum":-1.18,"type":"quantitative"}}},
{"data":{"name":"one"},"mark":{"type":"text","text":"B)","fontSize":26,"fontWeight":"bold","align":"left","baseline":"alphabetic","color":"#111"},"encoding":{"x":{"datum":-0.477,"type":"quantitative"},"y":{"datum":1.236,"type":"quantitative"}}},
{"data":{"name":"one"},"mark":{"type":"text","text":"Ppip5k2","fontSize":26,"fontWeight":"bold","fontStyle":"italic","align":"left","baseline":"alphabetic","color":"#111"},"encoding":{"x":{"datum":-0.283,"type":"quantitative"},"y":{"datum":1.236,"type":"quantitative"}}},
{"data":{"name":"one"},"mark":{"type":"text","text":"D843S/+","fontSize":18.5,"fontWeight":"bold","fontStyle":"italic","align":"left","baseline":"alphabetic","color":"#111"},"encoding":{"x":{"datum":0.333,"type":"quantitative"},"y":{"datum":1.287,"type":"quantitative"}}}
]},
{"width":432,"height":441,"layer":[
{"data":{"name":"mapC"},"mark":{"type":"rect","width":16.4,"height":16.4},"encoding":{
"x":{"field":"x","type":"quantitative","scale":{"domain":[-0.8,0.8],"range":[69.3,385],"nice":false,"zero":false},"axis":{"offset":-39.3,"zindex":1,"values":[-0.8,-0.3,0.2,0.7],"labelExpr":"replace(format(datum.value,'~g'),'−','-')","title":"x (mm)","grid":false,"labelFlush":false,"domainColor":"#999","tickColor":"#999","tickSize":3,"labelColor":"#555","labelFontSize":9.5,"titleColor":"#555","titleFontSize":10.5,"titleFontWeight":"normal","labelPadding":1,"titlePadding":3,"labelOverlap":false}},
"y":{"field":"y","type":"quantitative","scale":{"domain":[-0.8,0.8],"range":[401.7,84.3],"nice":false,"zero":false},"axis":{"offset":-69.3,"zindex":1,"values":[-0.8,-0.3,0.2,0.7],"labelExpr":"replace(format(datum.value,'~g'),'−','-')","title":"y (mm)","grid":false,"labelFlush":false,"domainColor":"#999","tickColor":"#999","tickSize":3,"labelColor":"#555","labelFontSize":9.5,"titleColor":"#555","titleFontSize":10.5,"titleFontWeight":"normal","labelPadding":3,"titlePadding":-9,"labelOverlap":false}},
"color":{"field":"v","type":"quantitative","scale":{"domain":[62.6,152.8],"range":["#800000","#ff0000","#ff8000","#ffff00","#80ff80","#00ffff","#0080ff","#0000ff","#000080"]},"legend":{"orient":"none","legendX":390,"legendY":84.3,"title":null,"gradientLength":317.4,"gradientThickness":11,"gradientStrokeWidth":0,"values":[70,80,90,100,110,120,130,140,150],"labelColor":"#555","labelFontSize":9.5,"labelOverlap":false,"labelOffset":3}}}},
{"data":{"name":"mapC"},"mark":{"type":"rect","width":23.5,"height":23.5,"opacity":0.35},"encoding":{"x":{"field":"x","type":"quantitative"},"y":{"field":"y","type":"quantitative"},"color":{"field":"v","type":"quantitative","legend":null}}},
{"data":{"name":"mapC"},"mark":{"type":"rect","width":32,"height":32,"opacity":0.25},"encoding":{"x":{"field":"x","type":"quantitative"},"y":{"field":"y","type":"quantitative"},"color":{"field":"v","type":"quantitative","legend":null}}},
{"data":{"name":"one"},"mark":{"type":"arc","innerRadius":138.5,"outerRadius":176,"theta":0,"theta2":6.2832,"fill":"white"},"encoding":{"x":{"datum":0,"type":"quantitative"},"y":{"datum":0,"type":"quantitative"}}},
{"data":{"name":"gridC"},"mark":{"type":"rule","color":"#000","opacity":0.05},"encoding":{"x":{"field":"g","type":"quantitative"},"y":{"datum":-0.8,"type":"quantitative"},"y2":{"datum":0.8}}},
{"data":{"name":"gridC"},"mark":{"type":"rule","color":"#000","opacity":0.05},"encoding":{"y":{"field":"g","type":"quantitative"},"x":{"datum":-0.8,"type":"quantitative"},"x2":{"datum":0.8}}},
{"data":{"name":"labC"},"mark":{"type":"text","fontSize":8,"color":"#222"},"encoding":{"x":{"field":"x","type":"quantitative"},"y":{"field":"y","type":"quantitative"},"text":{"field":"v","type":"quantitative"}}},
{"data":{"name":"arrowC"},"mark":{"type":"rule","color":"black","strokeWidth":6.5},"encoding":{"x":{"field":"x","type":"quantitative"},"y":{"field":"y","type":"quantitative"},"x2":{"field":"x2"},"y2":{"field":"y2"}}},
{"data":{"name":"arrowC"},"mark":{"type":"point","shape":"triangle-up","filled":true,"color":"black","opacity":1,"size":210,"angle":121.6},"encoding":{"x":{"field":"x2","type":"quantitative"},"y":{"field":"y2","type":"quantitative"}}},
{"data":{"name":"one"},"mark":{"type":"text","text":"Pachymetry Map","fontSize":9.5,"fontWeight":"bold","color":"#222"},"encoding":{"x":{"datum":0,"type":"quantitative"},"y":{"datum":0.828,"type":"quantitative"}}},
{"data":{"name":"one"},"mark":{"type":"text","text":"Thickness (μm)","fontSize":9,"align":"left","color":"#444"},"encoding":{"x":{"datum":0.706,"type":"quantitative"},"y":{"datum":0.837,"type":"quantitative"}}},
{"data":{"name":"one"},"mark":{"type":"text","text":"ID: 455629-R1_OS_V_4x4_0_0000010","fontSize":5,"color":"#444"},"encoding":{"x":{"datum":0.52,"type":"quantitative"},"y":{"datum":-0.943,"type":"quantitative"}}},
{"data":{"name":"one"},"mark":{"type":"text","text":"C)","fontSize":26,"fontWeight":"bold","align":"left","baseline":"alphabetic","color":"#111"},"encoding":{"x":{"datum":-0.539,"type":"quantitative"},"y":{"datum":1.058,"type":"quantitative"}}},
{"data":{"name":"one"},"mark":{"type":"text","text":"Ppip5k2","fontSize":26,"fontWeight":"bold","fontStyle":"italic","align":"left","baseline":"alphabetic","color":"#111"},"encoding":{"x":{"datum":-0.362,"type":"quantitative"},"y":{"datum":1.058,"type":"quantitative"}}},
{"data":{"name":"one"},"mark":{"type":"text","text":"D843S/D843S","fontSize":18.5,"fontWeight":"bold","fontStyle":"italic","align":"left","baseline":"alphabetic","color":"#111"},"encoding":{"x":{"datum":0.149,"type":"quantitative"},"y":{"datum":1.103,"type":"quantitative"}}}
]}
]}
